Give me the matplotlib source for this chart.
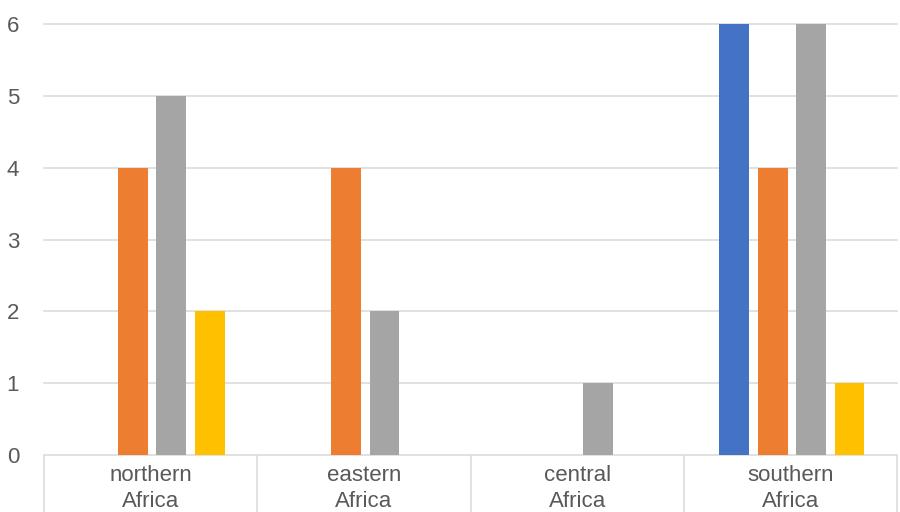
import matplotlib
matplotlib.use("Agg")
import matplotlib.pyplot as plt
import numpy as np

plt.rcParams['font.family'] = ['Liberation Sans', 'DejaVu Sans']

categories = ["northern\nAfrica", "eastern\nAfrica", "central\nAfrica", "southern\nAfrica"]
series_blue = [0, 0, 0, 6]
series_orange = [4, 4, 0, 4]
series_gray = [5, 2, 1, 6]
series_yellow = [2, 0, 0, 1]
yticks = [0, 1, 2, 3, 4, 5, 6]

colors = ["#4472C4", "#ED7D31", "#A5A5A5", "#FFC000"]
text_color = "#595959"
grid_color = "#d9d9d9"

fig = plt.figure(figsize=(9, 5.12), dpi=100)
ax = fig.add_axes([44 / 900, 57 / 512, 853 / 900, 431 / 512])

x = np.arange(len(categories))
slot = 0.18
width = 0.14
for i, (vals, c) in enumerate(zip([series_blue, series_orange, series_gray, series_yellow], colors)):
    ax.bar(x + (i - 1.5) * slot + 0.007, vals, width, color=c, zorder=3)

ax.set_xlim(-0.5, len(categories) - 0.5)
ax.set_ylim(0, 6)
ax.set_yticks(yticks)
ax.set_yticklabels([str(t) for t in yticks])
for t in yticks[1:]:
    ax.axhline(t, color=grid_color, lw=1.1, zorder=1, clip_on=False)

for s in ["top", "right", "left"]:
    ax.spines[s].set_visible(False)
ax.spines["bottom"].set_color(grid_color)
ax.spines["bottom"].set_linewidth(1.1)

# category boxes: long major ticks at boundaries, labels on minor ticks
ax.set_xticks(np.arange(-0.5, len(categories), 1.0))
ax.set_xticklabels([])
ax.tick_params(axis="x", which="major", length=45, color=grid_color, width=1.1, direction="out")
ax.set_xticks(x, minor=True)
ax.set_xticklabels(categories, minor=True, linespacing=1.3)
ax.tick_params(axis="x", which="minor", length=0, pad=7, labelsize=16, labelcolor=text_color)

ax.tick_params(axis="y", length=0, pad=18, labelsize=16, labelcolor=text_color)

fig.savefig("out.png", dpi=100)
